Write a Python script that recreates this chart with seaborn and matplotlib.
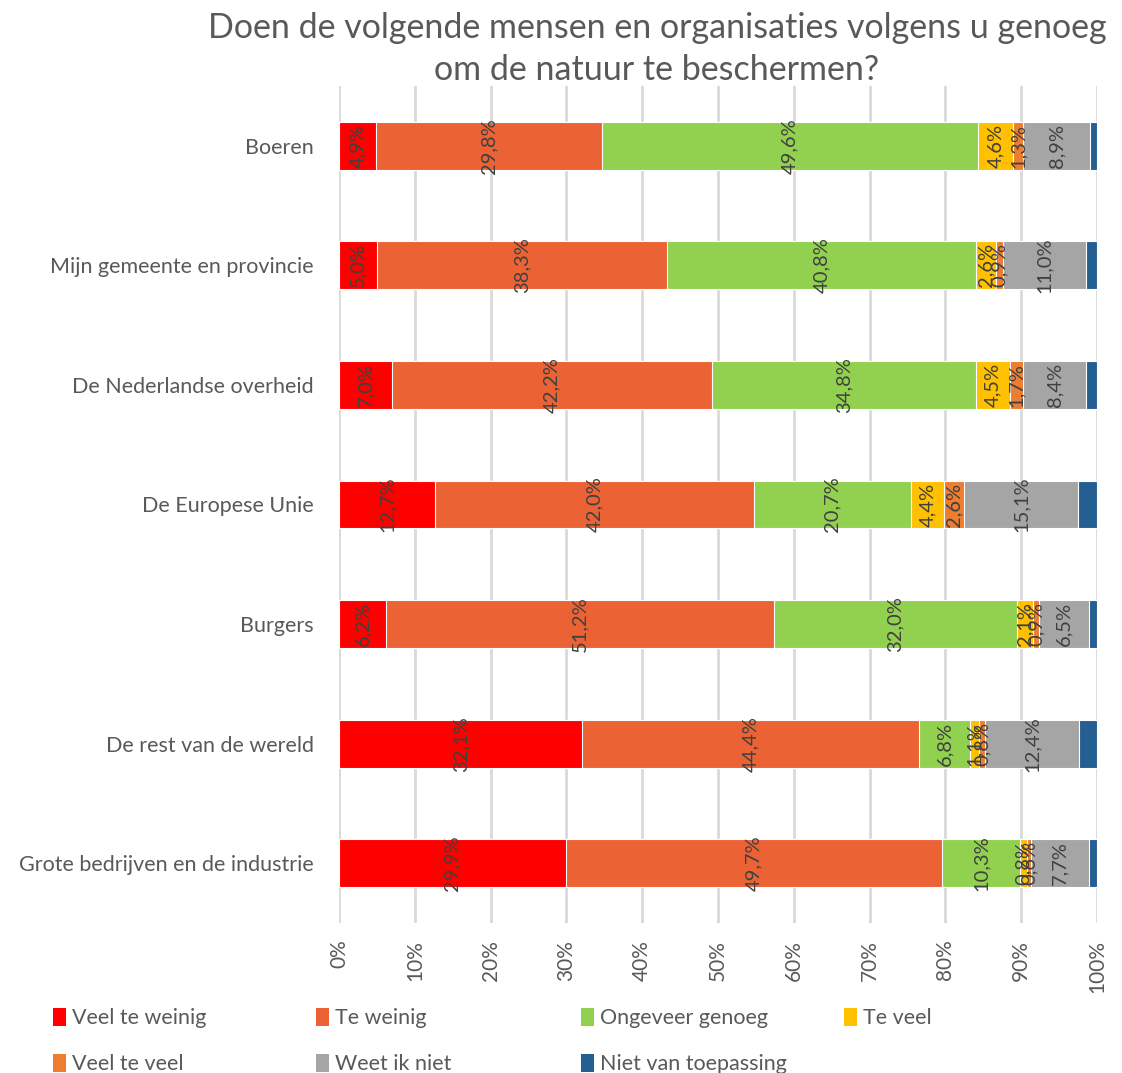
import matplotlib
matplotlib.use("Agg")
import matplotlib.pyplot as plt
from matplotlib.patches import Patch
import seaborn as sns
import pandas as pd
import numpy as np

groups = ["Boeren", "Mijn gemeente en provincie", "De Nederlandse overheid",
          "De Europese Unie", "Burgers", "De rest van de wereld",
          "Grote bedrijven en de industrie"]
answers = ["Veel te weinig", "Te weinig", "Ongeveer genoeg", "Te veel",
           "Veel te veel", "Weet ik niet", "Niet van toepassing"]
colors = ["#FF0000", "#EB6234", "#92D050", "#FFC000", "#ED7D31", "#A5A5A5", "#255E91"]

veel_te_weinig = [4.9, 5.0, 7.0, 12.7, 6.2, 32.1, 29.9]
te_weinig = [29.8, 38.3, 42.2, 42.0, 51.2, 44.4, 49.7]
ongeveer_genoeg = [49.6, 40.8, 34.8, 20.7, 32.0, 6.8, 10.3]
te_veel = [4.6, 2.6, 4.5, 4.4, 2.1, 1.1, 0.8]
veel_te_veel = [1.3, 0.9, 1.7, 2.6, 0.9, 0.8, 0.6]
weet_ik_niet = [8.9, 11.0, 8.4, 15.1, 6.5, 12.4, 7.7]
niet_van_toepassing = [0.9, 1.4, 1.4, 2.5, 1.1, 2.4, 1.0]

df = pd.DataFrame({
    "Groep": groups,
    answers[0]: veel_te_weinig,
    answers[1]: te_weinig,
    answers[2]: ongeveer_genoeg,
    answers[3]: te_veel,
    answers[4]: veel_te_veel,
    answers[5]: weet_ik_niet,
    answers[6]: niet_van_toepassing,
})

sns.set_theme(style="white")
plt.rcParams['font.family'] = ['Lato', 'DejaVu Sans']
text_col = "#595959"

fig = plt.figure(figsize=(11.22, 10.73), dpi=100)
ax = fig.add_axes([339 / 1122, 1 - 923 / 1073, (1097 - 339) / 1122, (923 - 86) / 1073])

cum = df[answers].cumsum(axis=1)
# draw cumulative bars, longest first, so each segment shows on top
for ans, col in reversed(list(zip(answers, colors))):
    sns.barplot(x=cum[ans], y=df["Groep"], color=col, orient="h", width=0.4,
                saturation=1, edgecolor="white", linewidth=0.8, ax=ax, zorder=2)

for ans in answers[:-1]:
    mids = cum[ans] - df[ans] / 2
    for i, (m, v) in enumerate(zip(mids, df[ans])):
        ax.text(m, i, f"{v:.1f}%".replace(".", ","), rotation=90,
                ha="center", va="center", fontsize=14.5, color="#404040", zorder=5)

ax.set_xlim(0, 100)
ax.set_ylim(6.5, -0.5)
ax.set_xticks(np.arange(0, 101, 10))
ax.set_xticklabels([f"{t}%" for t in range(0, 101, 10)], rotation=90,
                   fontsize=15, color=text_col)
ax.tick_params(axis="y", labelsize=15.5, labelcolor=text_col, pad=18, length=0)
ax.tick_params(axis="x", pad=12, length=0)
ax.xaxis.grid(True, color="#D9D9D9", linewidth=2, zorder=0)
ax.set_axisbelow(True)
ax.set_xlabel("")
ax.set_ylabel("")
for s in ax.spines.values():
    s.set_visible(False)

fig.text(657 / 1122, 1 - 28 / 1073, "Doen de volgende mensen en organisaties volgens u genoeg",
         ha="center", va="center", fontsize=24.5, color=text_col)
fig.text(657 / 1122, 1 - 70 / 1073, "om de natuur te beschermen?",
         ha="center", va="center", fontsize=24.5, color=text_col)

col_x = [42, 305, 570, 833]
columns = [[0, 4], [1, 5], [2, 6], [3]]
for x, idx in zip(col_x, columns):
    handles = [Patch(facecolor=colors[i], edgecolor="none") for i in idx]
    labels = [answers[i] for i in idx]
    leg = fig.legend(handles, labels, loc="upper left",
                     bbox_to_anchor=(x / 1122, 1 - 997 / 1073),
                     frameon=False, fontsize=15.5, handlelength=0.6, handleheight=0.9,
                     handletextpad=0.3, labelspacing=1.2, borderpad=0)
    for t in leg.get_texts():
        t.set_color(text_col)

fig.savefig("out.png", dpi=100)
